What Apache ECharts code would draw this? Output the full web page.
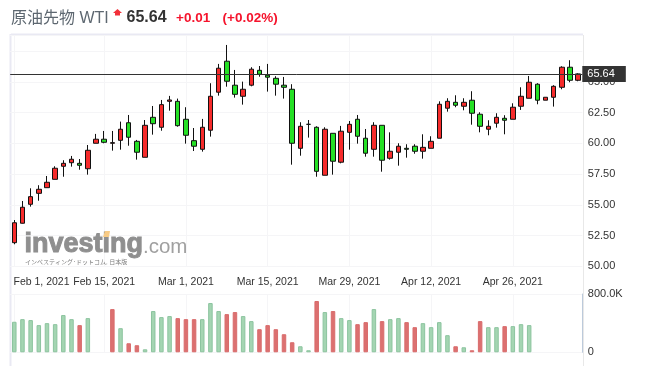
<!DOCTYPE html>
<html><head><meta charset="utf-8">
<style>html,body{margin:0;padding:0;background:#fff}#c{width:649px;height:374px}</style>
<script src="https://cdn.jsdelivr.net/npm/echarts@6/dist/echarts.min.js"></script>
</head><body><div id="c"></div>
<script>
const categories = ["Feb 1, 2021","Feb 2, 2021","Feb 3, 2021","Feb 4, 2021","Feb 5, 2021","Feb 8, 2021","Feb 9, 2021","Feb 10, 2021","Feb 11, 2021","Feb 12, 2021","Feb 14, 2021","Feb 15, 2021","Feb 16, 2021","Feb 17, 2021","Feb 18, 2021","Feb 19, 2021","Feb 22, 2021","Feb 23, 2021","Feb 24, 2021","Feb 25, 2021","Feb 26, 2021","Mar 1, 2021","Mar 2, 2021","Mar 3, 2021","Mar 4, 2021","Mar 5, 2021","Mar 8, 2021","Mar 9, 2021","Mar 10, 2021","Mar 11, 2021","Mar 12, 2021","Mar 15, 2021","Mar 16, 2021","Mar 17, 2021","Mar 18, 2021","Mar 19, 2021","Mar 22, 2021","Mar 23, 2021","Mar 24, 2021","Mar 25, 2021","Mar 26, 2021","Mar 29, 2021","Mar 30, 2021","Mar 31, 2021","Apr 1, 2021","Apr 2, 2021","Apr 5, 2021","Apr 6, 2021","Apr 7, 2021","Apr 8, 2021","Apr 9, 2021","Apr 12, 2021","Apr 13, 2021","Apr 14, 2021","Apr 15, 2021","Apr 16, 2021","Apr 19, 2021","Apr 20, 2021","Apr 21, 2021","Apr 22, 2021","Apr 23, 2021","Apr 26, 2021","Apr 27, 2021","Apr 28, 2021","Apr 29, 2021","Apr 30, 2021","May 3, 2021","May 4, 2021","May 5, 2021","May 6, 2021"];
const labelledDates = ["Feb 1, 2021","Feb 15, 2021","Mar 1, 2021","Mar 15, 2021","Mar 29, 2021","Apr 12, 2021","Apr 26, 2021"];
const opens = [51.92,53.50,55.04,55.93,56.39,57.07,58.13,58.42,58.37,57.93,60.00,60.33,60.00,60.24,61.67,60.16,58.86,62.11,61.30,63.41,63.41,61.95,60.21,59.51,61.06,64.15,66.67,64.72,63.82,64.72,65.93,65.53,65.28,64.72,64.39,59.59,61.54,61.30,57.40,60.81,58.46,60.89,61.95,60.41,59.51,61.46,58.78,59.27,59.59,59.76,59.35,59.59,60.41,62.85,63.33,63.01,63.50,62.36,61.14,61.63,62.03,61.95,63.01,63.66,64.80,63.50,63.74,64.55,66.18,65.12];
const closes = [53.54,54.80,55.66,56.26,56.83,57.97,58.37,58.70,58.21,59.43,60.33,60.08,60.05,61.14,60.49,59.27,61.46,61.59,63.14,63.52,61.43,60.65,59.76,61.30,63.82,66.10,65.04,63.98,64.39,66.02,65.61,65.37,64.80,64.55,60.00,61.38,61.54,57.72,61.14,58.54,60.98,61.54,60.57,59.19,61.46,58.62,59.35,59.76,59.51,59.35,59.67,60.16,63.17,63.41,63.09,63.33,62.44,61.38,61.38,62.11,61.87,62.93,63.82,64.96,63.50,63.74,64.63,66.18,65.12,65.64];
const lows = [51.79,53.48,54.85,55.33,56.39,57.07,57.28,58.10,57.85,57.45,60.00,60.00,59.40,59.48,59.80,58.67,58.86,60.70,61.02,62.65,61.35,59.97,59.37,59.32,60.54,63.87,64.60,63.71,63.14,64.63,65.41,64.20,63.87,63.63,58.26,58.99,60.46,57.28,57.40,57.45,58.37,59.48,59.97,58.91,58.91,57.69,58.67,58.18,58.83,59.15,58.75,59.59,60.41,62.57,62.93,62.68,61.51,60.89,60.65,61.27,60.73,61.95,62.71,63.66,63.17,63.50,62.98,64.39,64.96,65.04];
const highs = [53.76,55.31,56.34,56.59,57.34,58.13,58.62,58.97,58.72,59.86,60.76,61.00,61.00,61.76,62.30,60.27,61.89,63.03,63.52,63.85,63.63,62.93,61.24,61.98,64.88,66.45,67.99,65.96,65.01,66.18,66.28,66.45,65.45,65.39,64.80,61.71,61.89,61.38,61.30,60.81,61.41,61.81,62.30,61.16,61.71,61.46,60.89,60.00,59.92,59.92,60.73,60.57,63.41,63.66,63.90,63.66,64.23,62.52,61.87,62.44,62.28,63.25,64.55,65.47,64.88,63.74,64.72,66.26,66.75,65.69];
const volumes = [419,455,442,373,400,386,511,455,373,469,null,null,593,331,124,97,41,566,483,497,469,455,455,455,676,566,524,552,497,428,317,373,317,248,138,83,28,704,552,566,469,442,386,414,593,428,455,469,414,345,400,345,414,235,83,69,28,428,345,345,359,359,386,373,null,null,null,null,null,null];
const volumeSides = ["g","g","g","g","g","g","g","g","r","g","","","r","g","r","r","g","g","g","g","r","r","r","g","g","g","r","r","g","g","r","r","r","r","r","g","g","r","g","r","g","g","r","r","g","r","g","g","r","r","g","g","g","g","r","g","r","r","g","g","r","g","g","g","","","","","",""];
const lastPrice = 65.64;
const priceTicks = ["50.00","52.50","55.00","57.50","60.00","62.50","65.00"];

const RED='#f62b2b', GREEN='#25e025', FONT='"Liberation Sans",Arial,sans-serif', CJK='"Liberation Sans","Noto Sans CJK JP",sans-serif';
const showLabel = (i,v)=>i>0&&labelledDates.includes(v);
const showLine = (i)=>labelledDates.includes(categories[i]);
const frame='#e9e9f3';
const txt=(x,y,text,style)=>({type:'text',x,y,z:5,style:Object.assign({text,fontFamily:FONT,verticalAlign:'middle'},style)});
const ln=(x1,y1,x2,y2,stroke,lineWidth)=>({type:'line',z:0,shape:{x1,y1,x2,y2},style:{stroke,lineWidth}});

const chart=echarts.init(document.getElementById('c'),null,{renderer:'canvas'});
chart.setOption({
  animation:false,
  grid:[
    {left:10.2,right:66.7,top:35,height:231.3},
    {left:10.2,right:66.7,top:294,height:58.3}
  ],
  xAxis:[
    {type:'category',gridIndex:0,data:categories,boundaryGap:true,
      axisLine:{show:false},axisTick:{show:false},
      axisLabel:{interval:showLabel,margin:10,fontSize:10.5,color:'#333',fontFamily:FONT},
      splitLine:{show:true,interval:showLine,alignWithLabel:true,lineStyle:{color:'#f5f5f7',width:1}}},
    {type:'category',gridIndex:1,data:categories,boundaryGap:true,
      axisLine:{show:false},axisTick:{show:false},axisLabel:{show:false},
      splitLine:{show:true,interval:showLine,alignWithLabel:true,lineStyle:{color:'#f5f5f7',width:1}}}
  ],
  yAxis:[
    {type:'value',gridIndex:0,position:'right',min:50,max:68.8,interval:2.5,
      axisLine:{show:false},axisTick:{show:false},
      axisLabel:{margin:5.5,fontSize:11,color:'#333',fontFamily:FONT,showMaxLabel:false,
        formatter:v=>priceTicks.includes(v.toFixed(2))?v.toFixed(2):''},
      splitLine:{show:true,lineStyle:{color:'#f5f5f7',width:1}}},
    {type:'value',gridIndex:1,position:'right',min:0,max:800000,interval:800000,
      axisLine:{show:true,lineStyle:{color:'#bccadb',width:1}},axisTick:{show:false},
      axisLabel:{margin:5.5,fontSize:11,color:'#333',fontFamily:FONT,formatter:v=>v===0?'0':(v/1000).toFixed(1)+'K'},
      splitLine:{show:true,lineStyle:{color:'#f5f5f7',width:1}}}
  ],
  series:[
    {type:'candlestick',xAxisIndex:0,yAxisIndex:0,barWidth:5,
      data:categories.map((c,i)=>[opens[i],closes[i],lows[i],highs[i]]),
      itemStyle:{color:RED,color0:GREEN,borderColor:'#111',borderColor0:'#111',borderColorDoji:'#111',borderWidth:1},
      markLine:{silent:true,symbol:'none',animation:false,precision:2,
        lineStyle:{color:'#333',width:1,type:'solid'},
        label:{position:'end',distance:0,formatter:lastPrice.toFixed(2),color:'#fff',backgroundColor:'#333',fontSize:11,fontFamily:FONT,padding:[3,11,2,5],lineHeight:11},
        data:[{yAxis:lastPrice}]},
      z:3},
    {type:'bar',xAxisIndex:1,yAxisIndex:1,barWidth:4.5,
      data:volumes.map((v,i)=>({value:v===null?null:v*1000,
        itemStyle:volumeSides[i]==='r'?{color:'#dc7070',borderColor:'#d96c6c',borderWidth:1}:{color:'#a4d5b2',borderColor:'#8cc49f',borderWidth:1}}))}
  ],
  graphic:[
    ln(11,34.5,583,34.5,frame,2),
    ln(10.5,34,10.5,366,frame,2),
    ln(583.5,35,583.5,366,'#e8e8e8',1),
    txt(13.5,277,categories[0],{fontSize:10.5,fill:'#333',verticalAlign:'top',lineHeight:10.5}),
    txt(11,19,'原油先物 WTI',{fontFamily:CJK,fontSize:16,fill:'#5d6770'}),
    {type:'polygon',z:5,shape:{points:[[117.5,9],[122,13],[120,13],[120,15.5],[115,15.5],[115,13],[113,13]]},style:{fill:'#f2303a'}},
    txt(126.5,18,'65.64',{fontSize:16,fontWeight:'bold',fill:'#333'}),
    txt(176,18,'+0.01',{fontSize:13.5,fontWeight:'bold',fill:'#f5132c'}),
    txt(222.5,18,'(+0.02%)',{fontSize:13.5,fontWeight:'bold',fill:'#f5132c'}),
    txt(24.5,245,'investing',{fontSize:27,fontWeight:'bold',fill:'#8f8f8f',stroke:'#8f8f8f',lineWidth:1}),
    txt(143,247.5,'.com',{fontSize:20.5,fill:'#a0a0a0'}),
    {type:'polygon',z:6,shape:{points:[[105,231],[110,231],[109,237],[103,237]]},style:{fill:'#f8cb85'}},
    txt(25,262,'インベスティング･ドットコム, 日本版',{fontFamily:CJK,fontSize:6,fill:'#7d7d7d'})
  ]
});
</script></body></html>
